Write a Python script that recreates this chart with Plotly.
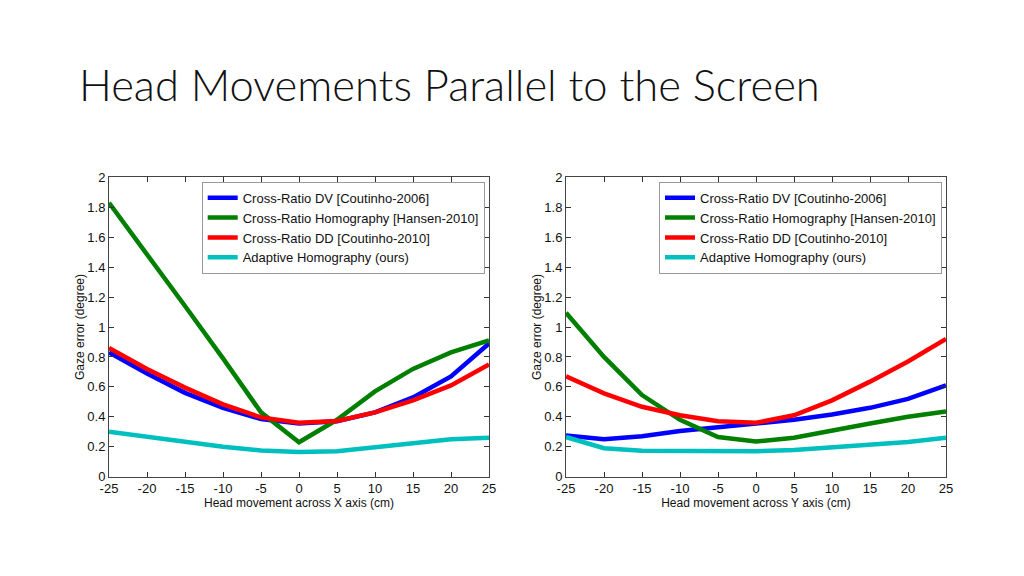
import plotly.graph_objects as go

W, H = 1024, 576
OFF = 8  # page body margin in the browser

x_vals = [-25, -20, -15, -10, -5, 0, 5, 10, 15, 20, 25]

# Left panel: head movement across X axis
x_dv = [0.83, 0.69, 0.56, 0.46, 0.385, 0.355, 0.37, 0.43, 0.53, 0.67, 0.89]
x_hom = [1.83, 1.49, 1.14, 0.79, 0.43, 0.23, 0.38, 0.57, 0.72, 0.83, 0.91]
x_dd = [0.86, 0.72, 0.595, 0.483, 0.396, 0.36, 0.372, 0.43, 0.51, 0.61, 0.75]
x_ada = [0.30, 0.265, 0.23, 0.20, 0.175, 0.165, 0.17, 0.195, 0.225, 0.25, 0.26]

# Right panel: head movement across Y axis
y_dv = [0.275, 0.25, 0.27, 0.305, 0.33, 0.355, 0.38, 0.415, 0.46, 0.52, 0.61]
y_hom = [1.095, 0.80, 0.545, 0.38, 0.265, 0.235, 0.26, 0.31, 0.355, 0.40, 0.435]
y_dd = [0.67, 0.557, 0.467, 0.41, 0.37, 0.36, 0.41, 0.51, 0.635, 0.77, 0.92]
y_ada = [0.265, 0.19, 0.174, 0.173, 0.173, 0.17, 0.178, 0.194, 0.214, 0.232, 0.26]

series_names = [
    "Cross-Ratio DV [Coutinho-2006]",
    "Cross-Ratio Homography [Hansen-2010]",
    "Cross-Ratio DD [Coutinho-2010]",
    "Adaptive Homography (ours)",
]
colors = ["#0000FF", "#007F00", "#FF0000", "#00BFBF"]

x_ticks = [-25, -20, -15, -10, -5, 0, 5, 10, 15, 20, 25]
x_tick_labels = ["-25", "-20", "-15", "-10", "-5", "0", "5", "10", "15", "20", "25"]
y_ticks = [0, 0.2, 0.4, 0.6, 0.8, 1, 1.2, 1.4, 1.6, 1.8, 2]
y_tick_labels = ["0", "0.2", "0.4", "0.6", "0.8", "1", "1.2", "1.4", "1.6", "1.8", "2"]

title_text = "Head Movements Parallel to the Screen"
x_title_left = "Head movement across X axis (cm)"
x_title_right = "Head movement across Y axis (cm)"
y_title = "Gaze error (degree)"

fig = go.Figure()
left = [x_dv, x_hom, x_dd, x_ada]
right = [y_dv, y_hom, y_dd, y_ada]
for name, c, ys in zip(series_names, colors, left):
    fig.add_trace(go.Scatter(x=x_vals, y=ys, mode="lines", name=name,
                             line=dict(color=c, width=4.5),
                             xaxis="x", yaxis="y", legend="legend"))
for name, c, ys in zip(series_names, colors, right):
    fig.add_trace(go.Scatter(x=x_vals, y=ys, mode="lines", name=name,
                             line=dict(color=c, width=4.5),
                             xaxis="x2", yaxis="y2", legend="legend2"))

font_fam = "Liberation Sans, Arial, sans-serif"


def px_x(p):
    return (p - OFF) / W


def px_y(p):
    return 1 - (p - OFF) / H


ydom = [px_y(476.7), px_y(177.3)]


def xax(domain, title, anchor):
    return dict(domain=domain, range=[-25, 25], anchor=anchor, automargin=False,
                tickvals=x_ticks, ticktext=x_tick_labels,
                ticks="inside", ticklen=5, tickcolor="#333",
                showline=True, linecolor="#444", linewidth=1, mirror="ticks",
                showgrid=False, zeroline=False,
                tickfont=dict(family=font_fam, size=13, color="#111"),
                title=dict(text=title, font=dict(family=font_fam, size=12, color="#111"),
                           standoff=0))


def yax(anchor):
    return dict(domain=ydom, range=[0, 2], anchor=anchor, automargin=False,
                tickvals=y_ticks, ticktext=y_tick_labels,
                ticks="inside", ticklen=5, tickcolor="#333",
                showline=True, linecolor="#444", linewidth=1, mirror="ticks",
                showgrid=False, zeroline=False,
                tickfont=dict(family=font_fam, size=13, color="#111"),
                title=dict(text=y_title, font=dict(family=font_fam, size=12, color="#111"),
                           standoff=0))


def leg(xl):
    return dict(x=px_x(xl), y=px_y(181.7), xanchor="left", yanchor="top",
                bgcolor="white", bordercolor="#999", borderwidth=1,
                font=dict(family=font_fam, size=13, color="#111"),
                itemwidth=30, tracegroupgap=0)


fig.update_layout(
    width=W, height=H,
    margin=dict(l=0, r=0, t=0, b=0, autoexpand=False),
    paper_bgcolor="white", plot_bgcolor="white",
    xaxis=xax([px_x(109), px_x(489)], x_title_left, "y"),
    yaxis=yax("x"),
    xaxis2=xax([px_x(566), px_x(946)], x_title_right, "y2"),
    yaxis2=yax("x2"),
    legend=leg(201.7),
    legend2=leg(659),
    showlegend=True,
    title=dict(text=title_text, x=px_x(79), xanchor="left", xref="paper", y=px_y(86),
               yanchor="middle", automargin=False,
               font=dict(family="Lato, Open Sans, sans-serif", size=43.5, weight=300,
                         color="#111")),
)

fig.write_html("out.html")
